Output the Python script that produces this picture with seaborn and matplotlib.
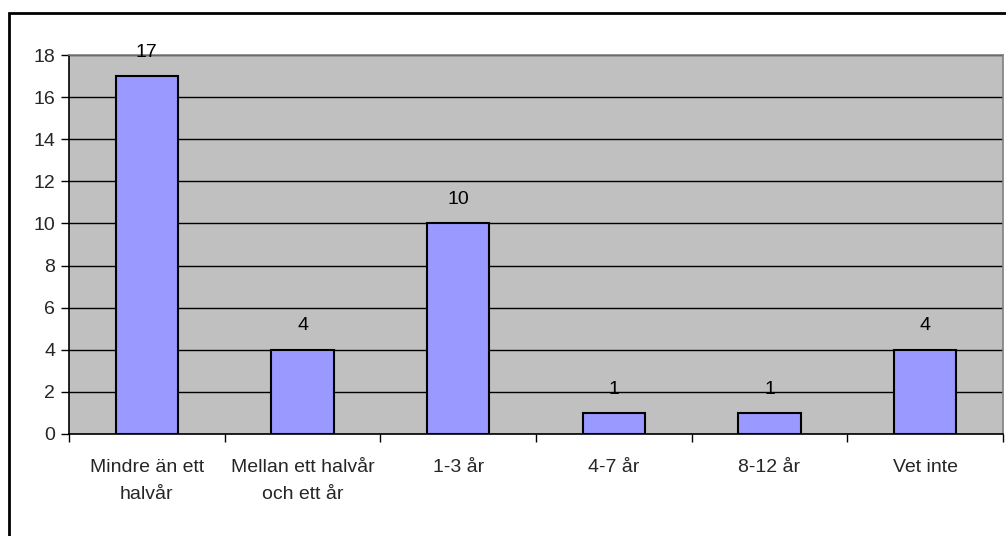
import numpy as np
import matplotlib
matplotlib.use("Agg")
import matplotlib.pyplot as plt
import seaborn as sns
from matplotlib.patches import Rectangle

# Data
categories = ["Mindre än ett\nhalvår", "Mellan ett halvår\noch ett år", "1-3 år",
              "4-7 år", "8-12 år", "Vet inte"]
counts = [17, 4, 10, 1, 1, 4]
y_ticks = [0, 2, 4, 6, 8, 10, 12, 14, 16, 18]

sns.set_theme(style="white")
plt.rcParams['font.family'] = ['Liberation Sans', 'DejaVu Sans']

fig = plt.figure(figsize=(10.06, 5.36), dpi=100)
ax = fig.add_axes([69 / 1006, (536 - 434) / 536, (1003 - 69) / 1006, (434 - 55) / 536])
ax.set_facecolor("#C0C0C0")

sns.barplot(x=categories, y=counts, color="#9999FF", edgecolor="black",
            linewidth=1.5, width=0.4, saturation=1, ax=ax, zorder=3)

ax.set_ylim(0, 18)
ax.set_xlim(-0.5, len(categories) - 0.5)
ax.set_yticks(y_ticks)
ax.yaxis.grid(True, color="black", linewidth=1)
ax.set_axisbelow(True)

# värden ovanför staplarna
for i, v in enumerate(counts):
    ax.annotate(str(v), (i, v), xytext=(0, 11), textcoords="offset points",
                ha="center", va="bottom", fontsize=14, color="black")

# x-ticks mellan kategorierna
ax.set_xticks(np.arange(-0.5, len(categories), 1.0), minor=True)
ax.tick_params(axis="x", which="minor", length=6, width=1, color="black", bottom=True)
ax.tick_params(axis="x", which="major", length=0, pad=18, labelsize=14)
ax.tick_params(axis="y", which="major", length=6, width=1, color="black", left=True,
               labelsize=14, pad=4)
for lab in ax.get_xticklabels():
    lab.set_linespacing(1.75)

ax.set_xlabel("")
ax.set_ylabel("")
for side in ["left", "bottom"]:
    ax.spines[side].set_color("black")
    ax.spines[side].set_linewidth(1.2)
for side in ["top", "right"]:
    ax.spines[side].set_color("#808080")
    ax.spines[side].set_linewidth(1.2)

# ram runt diagrammet
fig.patches.append(Rectangle((9 / 1006, -0.05), 1.2, (536 - 13) / 536 + 0.05,
                             transform=fig.transFigure, fill=False,
                             edgecolor="black", linewidth=2))

fig.savefig("out.png", dpi=100)
